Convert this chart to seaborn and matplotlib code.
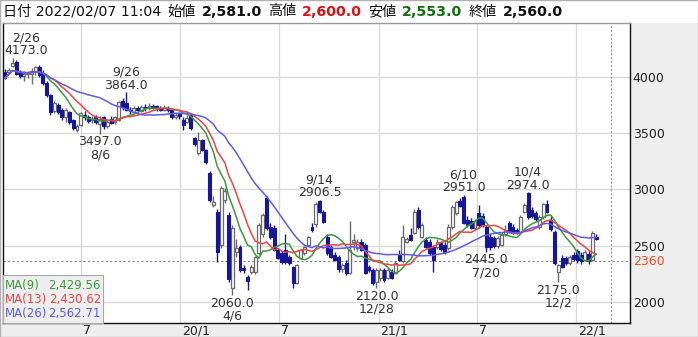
import numpy as np
import pandas as pd
import matplotlib
matplotlib.use("Agg")
import matplotlib.pyplot as plt
import matplotlib.transforms as mtransforms
from matplotlib.patches import Rectangle
import seaborn as sns

# ---------------- data ----------------
start_week = "2019-02-11"
opens = [4045, 4040, 4100, 4130, 4040, 4010, 4025, 4030, 4040, 4090,
         4030, 3950, 3840, 3700, 3750, 3710, 3645, 3690, 3620, 3530,
         3570, 3665, 3645, 3620, 3645, 3580, 3640, 3560, 3630, 3600,
         3620, 3790, 3770, 3710, 3690, 3720, 3700, 3730, 3720, 3740,
         3740, 3725, 3710, 3725, 3710, 3640, 3670, 3620, 3600, 3665,
         3460, 3325, 3440, 3350, 3150, 2865, 2800, 2510, 2910, 2775,
         2125, 2445, 2490, 2305, 2220, 2270, 2270, 2435, 2600, 2925,
         2670, 2660, 2465, 2435, 2465, 2400, 2310, 2170, 2393, 2437,
         2510, 2670, 2690, 2900, 2800, 2580, 2490, 2420, 2400, 2290,
         2350, 2260, 2530, 2480, 2535, 2510, 2310, 2285, 2180, 2210,
         2286, 2215, 2268, 2260, 2420, 2360, 2535, 2597, 2615, 2820,
         2580, 2553, 2535, 2490, 2490, 2520, 2508, 2480, 2668, 2790,
         2900, 2935, 2730, 2720, 2660, 2790, 2760, 2668, 2579, 2570,
         2495, 2510, 2600, 2700, 2668, 2640, 2620, 2800, 2970, 2820,
         2790, 2668, 2757, 2870, 2730, 2620, 2270, 2393, 2393, 2350,
         2419, 2450, 2420, 2375, 2430, 2375, 2581]
highs = [4070, 4080, 4173, 4150, 4060, 4050, 4050, 4080, 4100, 4110,
         4060, 3960, 3850, 3790, 3770, 3720, 3720, 3700, 3630, 3580,
         3690, 3700, 3660, 3650, 3660, 3650, 3650, 3630, 3650, 3650,
         3790, 3810, 3864, 3730, 3740, 3740, 3750, 3760, 3770, 3760,
         3755, 3745, 3750, 3740, 3720, 3680, 3690, 3640, 3660, 3680,
         3470, 3510, 3450, 3360, 3160, 2940, 2830, 3030, 3010, 2800,
         2680, 2560, 2510, 2330, 2240, 2330, 2410, 2700, 2790, 2940,
         2700, 2680, 2480, 2450, 2600, 2420, 2320, 2340, 2470, 2500,
         2590, 2700, 2890, 2906.5, 2820, 2600, 2510, 2440, 2420, 2350,
         2370, 2720, 2600, 2560, 2560, 2520, 2330, 2300, 2300, 2300,
         2300, 2300, 2290, 2360, 2460, 2680, 2580, 2660, 2830, 2840,
         2700, 2580, 2560, 2510, 2560, 2540, 2530, 2690, 2860, 2900,
         2920, 2951, 2760, 2750, 2740, 2860, 2790, 2680, 2600, 2590,
         2590, 2620, 2680, 2720, 2690, 2660, 2770, 2880, 2974, 2840,
         2810, 2770, 2880, 2910, 2760, 2640, 2340, 2420, 2410, 2420,
         2440, 2470, 2440, 2460, 2450, 2630, 2600]
lows = [3985, 4030, 4090, 4020, 3990, 3960, 3990, 3940, 4020, 4000,
        3930, 3820, 3660, 3680, 3670, 3620, 3600, 3580, 3530, 3510,
        3560, 3620, 3590, 3590, 3580, 3497, 3540, 3545, 3580, 3580,
        3610, 3710, 3700, 3670, 3680, 3690, 3690, 3700, 3710, 3715,
        3700, 3695, 3700, 3690, 3630, 3630, 3630, 3530, 3590, 3530,
        3390, 3310, 3340, 3230, 2890, 2840, 2357, 2480, 2880, 2180,
        2060, 2400, 2270, 2260, 2110, 2250, 2250, 2420, 2580, 2640,
        2560, 2450, 2380, 2340, 2340, 2330, 2125, 2160, 2380, 2420,
        2500, 2620, 2670, 2790, 2700, 2420, 2390, 2360, 2270, 2270,
        2240, 2250, 2460, 2450, 2450, 2250, 2270, 2150, 2120, 2190,
        2180, 2200, 2200, 2250, 2360, 2350, 2520, 2540, 2600, 2650,
        2570, 2480, 2420, 2270, 2470, 2450, 2430, 2460, 2650, 2770,
        2840, 2690, 2670, 2650, 2640, 2660, 2670, 2445, 2460, 2480,
        2480, 2500, 2590, 2610, 2600, 2600, 2610, 2790, 2740, 2750,
        2720, 2650, 2740, 2790, 2630, 2330, 2175, 2300, 2330, 2330,
        2360, 2350, 2340, 2360, 2340, 2360, 2553]
closes = [3990, 4060, 4120, 4030, 4010, 4025, 4030, 4050, 4085, 4020,
          3950, 3840, 3690, 3770, 3690, 3640, 3705, 3600, 3550, 3565,
          3680, 3640, 3610, 3630, 3600, 3630, 3560, 3600, 3595, 3640,
          3780, 3730, 3710, 3695, 3720, 3705, 3730, 3720, 3745, 3735,
          3720, 3710, 3725, 3705, 3640, 3665, 3650, 3575, 3635, 3545,
          3400, 3440, 3350, 3245, 2910, 2890, 2445, 3015, 2985, 2200,
          2660, 2480, 2285, 2285, 2190, 2315, 2400, 2685, 2775, 2660,
          2580, 2465, 2395, 2355, 2355, 2350, 2170, 2330, 2464, 2490,
          2580, 2640, 2870, 2800, 2710, 2435, 2400, 2375, 2290, 2330,
          2260, 2465, 2550, 2530, 2465, 2260, 2286, 2170, 2286, 2286,
          2197, 2286, 2215, 2345, 2375, 2580, 2560, 2553, 2800, 2670,
          2686, 2490, 2437, 2375, 2535, 2470, 2446, 2668, 2840, 2890,
          2850, 2700, 2686, 2660, 2720, 2686, 2680, 2490, 2490, 2495,
          2570, 2597, 2640, 2630, 2615, 2620, 2757, 2863, 2757, 2760,
          2740, 2757, 2870, 2800, 2650, 2350, 2330, 2313, 2350, 2400,
          2380, 2375, 2360, 2440, 2360, 2615, 2560]

ma_windows = [9, 13, 26]
ma_names = ["MA(9)", "MA(13)", "MA(26)"]
ma_last_text = ["2,429.56", "2,430.62", "2,562.71"]
ma_colors = ["#3c9a3c", "#ee4444", "#5c5cf0"]

y_ticks = [2000, 2500, 3000, 3500, 4000]
ref_price = 2360
x_tick_dates = ["2019-07-01", "2020-01-01", "2020-07-01", "2021-01-01", "2021-07-01", "2022-01-01"]
x_tick_labels = ["7", "20/1", "7", "21/1", "7", "22/1"]
cursor_date = "2022-03-07"

ann_index = [2, 32, 25, 60, 83, 98, 121, 127, 138, 146]
ann_dates = ["2/26", "9/26", "8/6", "4/6", "9/14", "12/28", "6/10", "7/20", "10/4", "12/2"]
ann_values = [4173.0, 3864.0, 3497.0, 2060.0, 2906.5, 2120.0, 2951.0, 2445.0, 2974.0, 2175.0]
ann_side = ["high", "high", "low", "low", "high", "low", "high", "low", "high", "low"]

header_parts = ["日付 2022/02/07 11:04", "始値", "2,581.0", "高値", "2,600.0", "安値", "2,553.0", "終値", "2,560.0"]
header_weights = ["normal", "normal", "bold", "normal", "bold", "normal", "bold", "normal", "bold"]
header_colors = ["#111111", "#111111", "#111111", "#111111", "#e01010", "#111111", "#107010", "#111111", "#111111"]

# ---------------- setup ----------------
sns.set_style("white")
plt.rcParams["font.family"] = ["DejaVu Sans", "Noto Sans CJK JP"]

W, H = 698, 337
fig = plt.figure(figsize=(W / 100, H / 100), dpi=100)
fig.patch.set_facecolor("white")

def fxy(px, py_top):
    return px / W, 1 - py_top / H

df = pd.DataFrame({"open": opens, "high": highs, "low": lows, "close": closes})
df["week"] = np.arange(len(df))
df["date"] = pd.date_range(start_week, periods=len(df), freq="7D")
for w in ma_windows:
    df[f"ma{w}"] = df["close"].rolling(w, min_periods=1).mean()

start = pd.Timestamp(start_week)
def week_pos(d):
    return (pd.Timestamp(d) - start).days / 7.0

# panels behind axes
fig.add_artist(Rectangle((0, 0), 1, 14 / H, transform=fig.transFigure,
                         facecolor="#eeeeee", edgecolor="none", zorder=-5))
fig.add_artist(Rectangle((630 / W, 0), 68 / W, 314 / H, transform=fig.transFigure,
                         facecolor="#eeeeee", edgecolor="none", zorder=-5))

ax = fig.add_axes([3 / W, 14 / H, 627 / W, 300 / H])
ax.set_facecolor("white")
ax.set_xlim(-0.53, 164.9)
ax.set_ylim(1813, 4480)

# grid
for yv in y_ticks:
    ax.axhline(yv, color="#d9d9d9", lw=1, zorder=0)
grid_x = [week_pos(d) for d in x_tick_dates]
for gx in grid_x:
    ax.axvline(gx, color="#d9d9d9", lw=1, zorder=0)

ax.axhline(ref_price, color="#8a8a8a", lw=0.8, ls=(0, (2, 2)), zorder=1)
ax.axvline(week_pos(cursor_date), color="#8a8a8a", lw=0.8, ls=(0, (1.5, 2)), zorder=1)

# candles
up = df["close"] >= df["open"]
blue = "#16169a"
hollow_edge = "#6a6a6a"
wick_colors = np.where(up, hollow_edge, blue)
ax.vlines(df["week"], df["low"], df["high"], colors=wick_colors, lw=1, zorder=2)
body_bottom = np.minimum(df["open"], df["close"])
body_h = np.maximum(np.abs(df["close"] - df["open"]), 10)
ax.bar(df["week"][up], body_h[up], bottom=body_bottom[up], width=0.78,
       facecolor="white", edgecolor=hollow_edge, linewidth=0.9, zorder=3)
ax.bar(df["week"][~up], body_h[~up], bottom=body_bottom[~up], width=0.78,
       facecolor=blue, edgecolor=blue, linewidth=0.8, zorder=3)

# moving averages
for w, c in zip(ma_windows, ma_colors):
    sns.lineplot(data=df, x="week", y=f"ma{w}", color=c, lw=1.1, ax=ax, zorder=4, legend=False)

ax.set_xlabel("")
ax.set_ylabel("")
ax.set_xticks([])
ax.yaxis.tick_right()
ax.set_yticks(y_ticks)
ax.set_yticklabels([str(v) for v in y_ticks])
ax.tick_params(axis="y", length=0, pad=2, labelsize=9, labelcolor="#222222")
for side in ["left", "bottom", "right"]:
    ax.spines[side].set_color("#111111")
    ax.spines[side].set_linewidth(1)
ax.spines["top"].set_color("#999999")
ax.spines["top"].set_linewidth(1)

# reference price label
rt = mtransforms.blended_transform_factory(ax.transAxes, ax.transData)
ax.text(1.0, ref_price, str(ref_price),
        transform=mtransforms.offset_copy(rt, fig=fig, x=3, y=0, units="dots"),
        ha="left", va="center", fontsize=9, color="#e8502a", clip_on=False)

# x tick labels (left aligned just right of grid lines)
bt = mtransforms.blended_transform_factory(ax.transData, ax.transAxes)
for gx, lab in zip(grid_x, x_tick_labels):
    ax.text(gx, 0, lab, transform=mtransforms.offset_copy(bt, fig=fig, x=2, y=-1, units="dots"),
            ha="left", va="top", fontsize=9, color="#222222", clip_on=False)

# annotations
ann_groups = []
for i, d, v, s in zip(ann_index, ann_dates, ann_values, ann_side):
    vtxt = f"{v:.1f}"
    if s == "high":
        offs = [(vtxt, 7), (d, 20)]
    else:
        offs = [(vtxt, -8), (d, -21)]
    grp = []
    for t, o in offs:
        a = ax.annotate(t, xy=(i, v), xytext=(0, o), textcoords="offset pixels",
                        ha="center", va="center", fontsize=9, color="#333333", zorder=6)
        grp.append(a)
    ann_groups.append(grp)

fig.canvas.draw()
r = fig.canvas.get_renderer()
ax_bb = ax.get_window_extent(r)
for grp in ann_groups:
    x0 = min(a.get_window_extent(r).x0 for a in grp)
    x1 = max(a.get_window_extent(r).x1 for a in grp)
    shift = 0
    if x0 < ax_bb.x0 + 1:
        shift = ax_bb.x0 + 1 - x0
    elif x1 > ax_bb.x1 - 1:
        shift = ax_bb.x1 - 1 - x1
    if shift:
        for a in grp:
            xo, yo = a.xyann
            a.xyann = (xo + shift, yo)

# MA legend box
bx0, by0 = fxy(3, 323)
fig.add_artist(Rectangle((bx0, by0), 100 / W, 48 / H, transform=fig.transFigure,
                         facecolor="#eeeeee", edgecolor="#a8a8a8", lw=0.8, zorder=8))
for k, (nm, val, c) in enumerate(zip(ma_names, ma_last_text, ma_colors)):
    yy = 285 + 14 * k
    tx, ty = fxy(5, yy)
    fig.text(tx, ty, nm, ha="left", va="center", fontsize=8.5, color=c, zorder=9)
    tx2, _ = fxy(101, yy)
    fig.text(tx2, ty, val, ha="right", va="center", fontsize=8.5, color=c, zorder=9)

# header
cx = 3.0
for t, wgt, col in zip(header_parts, header_weights, header_colors):
    px, py = fxy(cx, 11.5)
    tt = fig.text(px, py, t, ha="left", va="center", fontsize=10.2, fontweight=wgt, color=col)
    bb = tt.get_window_extent(r)
    cx += bb.width + 6

# outer border
fig.add_artist(Rectangle((0, 0), 1, 1, transform=fig.transFigure, fill=False,
                         edgecolor="#b0b0b0", lw=1, zorder=20))

fig.savefig("out.png", dpi=100)
